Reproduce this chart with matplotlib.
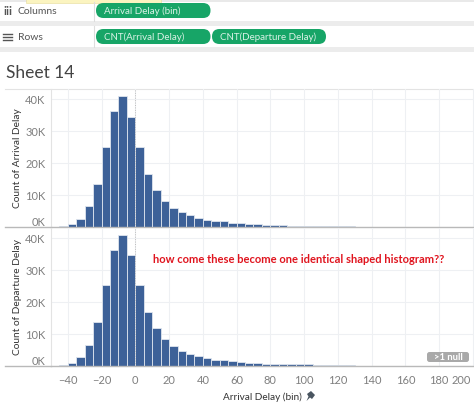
import matplotlib
matplotlib.use("Agg")
import matplotlib.pyplot as plt
from matplotlib.patches import FancyBboxPatch, Polygon, Rectangle
from matplotlib.transforms import ScaledTranslation

plt.rcParams['font.family'] = ['Lato', 'DejaVu Sans']

# Data (bin start, counts in thousands)
bin_starts = [-50, -45, -40, -35, -30, -25, -20, -15, -10, -5, 0, 5, 10, 15, 20, 25, 30, 35,
              40, 45, 50, 55, 60, 65, 70, 75, 80, 85, 90, 95, 100, 105, 110, 115, 120, 125, 130]
arrival_counts = [0.05, 0.2, 0.9, 2.5, 6.5, 13.5, 25.1, 36.1, 40.8, 34.5, 25.1, 16.7, 11.7, 8.2,
                  6.0, 4.7, 3.6, 2.9, 2.3, 1.8, 1.8, 1.4, 1.1, 0.8, 0.9, 0.6, 0.6, 0.55,
                  0.45, 0.45, 0.45, 0.3, 0.3, 0.3, 0.3, 0.3, 0.05]
departure_counts = [0.05, 0.2, 0.9, 2.6, 6.5, 13.6, 25.2, 36.2, 40.8, 34.6, 25.2, 16.8, 11.7, 8.3,
                    6.1, 4.7, 3.75, 3.0, 2.3, 1.9, 1.9, 1.35, 1.05, 0.8, 0.9, 0.6, 0.6, 0.55,
                    0.45, 0.45, 0.45, 0.3, 0.3, 0.3, 0.3, 0.3, 0.05]
x_ticks = [-40, -20, 0, 20, 40, 60, 80, 100, 120, 140, 160, 180, 200]
y_ticks = [0, 10, 20, 30, 40]
y_tick_labels = ['0K', '10K', '20K', '30K', '40K']

W, H = 474, 414
BAR = '#3d6198'
GRID = '#eef0f3'
TICK = '#7f7f7f'
DARK = '#333333'
GREEN = '#17a567'


def px_axes(fig, left, top, right, bottom, **kw):
    return fig.add_axes([left / W, 1 - bottom / H, (right - left) / W, (bottom - top) / H], **kw)


def draw_panel(ax, counts, ylabel, y_center, top_limit):
    ax.set_axisbelow(True)
    ax.bar(bin_starts, counts, width=5, align='edge', color=BAR, edgecolor='#dfe5ee', linewidth=0.6)
    ax.set_xlim(-50, 200.7)
    ax.set_ylim(0, top_limit)
    ax.set_yticks(y_ticks)
    ax.set_yticklabels(y_tick_labels)
    ax.set_xticks(x_ticks)
    ax.grid(True, color=GRID, linewidth=0.8)
    ax.axvline(0, color='#bdbdbd', linewidth=0.7, linestyle=(0, (1, 1.5)), zorder=1)
    for side in ['top', 'right']:
        ax.spines[side].set_visible(False)
    ax.spines['left'].set_color('#e3e3e3')
    ax.spines['bottom'].set_color('#b9b9b9')
    ax.spines['bottom'].set_linewidth(1.0)
    ax.tick_params(axis='y', length=0, pad=4, labelsize=8.0, labelcolor=TICK)
    ax.tick_params(axis='x', length=0, pad=6, labelsize=8.0, labelcolor=TICK)
    ax.get_yticklabels()[0].set_verticalalignment('bottom')
    ax.text(18 / W, 1 - y_center / H, ylabel, transform=ax.figure.transFigure, rotation=90,
            ha='center', va='center', fontsize=7.3, color=DARK)


def pill(bg, x0, x1, y0, y1, label):
    r = (y1 - y0) / 2
    bg.add_patch(FancyBboxPatch((x0 + r, y0 + r), x1 - x0 - 2 * r, 0.01,
                                boxstyle=f'round,pad={r},rounding_size={r}',
                                facecolor=GREEN, edgecolor='none'))
    bg.text(x0 + 8.5, (y0 + y1) / 2, label, color='#d9f2e6', fontsize=7.0, ha='left', va='center')


fig = plt.figure(figsize=(W / 100, H / 100), dpi=100, facecolor='white')

# Shelf area at the top, laid out in pixels
bg = px_axes(fig, 0, 0, W, H)
bg.set_xlim(0, W)
bg.set_ylim(H, 0)
bg.axis('off')

bg.add_patch(Rectangle((0, 0), W, 2.5, facecolor='#e9e9e9', edgecolor='none'))
bg.add_patch(Rectangle((0, 22), W, 5, facecolor='#ececec', edgecolor='none'))
bg.add_patch(Rectangle((0, 48), W, 5, facecolor='#ececec', edgecolor='none'))
bg.plot([94, 94], [3, 22], color='#dddddd', linewidth=0.8)
bg.plot([94, 94], [27, 48], color='#dddddd', linewidth=0.8)
bg.add_patch(Rectangle((26, 0), 135, 3.5, facecolor='#fbf4c0', edgecolor='#e5dc9a', linewidth=0.4))

bg.text(3, 11.5, 'iii', fontsize=8.5, fontweight='bold', color='#555555', ha='left', va='center')
bg.text(18, 11.5, 'Columns', fontsize=7.5, color='#555555', ha='left', va='center')
for y in [34.5, 37.5, 40.5]:
    bg.plot([3, 12], [y, y], color='#555555', linewidth=1.0)
bg.text(18, 38, 'Rows', fontsize=7.5, color='#555555', ha='left', va='center')

pill(bg, 96, 210.5, 4, 19, 'Arrival Delay (bin)')
pill(bg, 96, 210.5, 30, 45, 'CNT(Arrival Delay)')
pill(bg, 212, 326, 30, 45, 'CNT(Departure Delay)')

bg.text(6, 73, 'Sheet 14', fontsize=12.5, color='#444444', ha='left', va='center')
bg.plot([5, W], [90, 90], color='#e3e3e3', linewidth=0.8)

# The two histograms
ax_top = px_axes(fig, 51, 90, W, 228)
ax_top.patch.set_alpha(0)
draw_panel(ax_top, arrival_counts, 'Count of Arrival Delay', 158, 43.1)
ax_top.tick_params(axis='x', labelbottom=False)

ax_bot = px_axes(fig, 51, 229, W, 366.7)
ax_bot.patch.set_alpha(0)
draw_panel(ax_bot, departure_counts, 'Count of Departure Delay', 297, 43.0)

# 200 sits against the edge, so it is pushed left to fit
last_label = ax_bot.get_xticklabels()[-1]
last_label.set_horizontalalignment('right')
last_label.set_transform(last_label.get_transform() + ScaledTranslation(-2 / 100, 0, fig.dpi_scale_trans))

# Baselines run on past the axis to the left
bg.plot([5, 51], [228, 228], color='#b9b9b9', linewidth=1.0)
bg.plot([5, 51], [366.7, 366.7], color='#b9b9b9', linewidth=1.0)

# Annotation, null badge, axis title and pin
top = px_axes(fig, 0, 0, W, H)
top.set_xlim(0, W)
top.set_ylim(H, 0)
top.axis('off')
top.text(153, 259.5, 'how come these become one identical shaped histogram??', color='#e0141e',
         fontsize=8.0, fontweight='bold', ha='left', va='center')
top.add_patch(FancyBboxPatch((429.5, 355.5), 37, 5, boxstyle='round,pad=2.5,rounding_size=2.5',
                             facecolor='#a9a9a9', edgecolor='none'))
top.text(448, 358, '>1 null', color='white', fontsize=6.8, fontweight='bold', ha='center', va='center')
top.text(262, 397.5, 'Arrival Delay (bin)', color=DARK, fontsize=7.2, ha='center', va='center')
top.add_patch(Polygon([[307, 395], [311, 392], [315, 396], [312, 400], [310, 398.5], [306.5, 402],
                       [308.5, 397.5]], closed=True, facecolor='#4a5560', edgecolor='none'))

fig.savefig('out.png', dpi=100)
